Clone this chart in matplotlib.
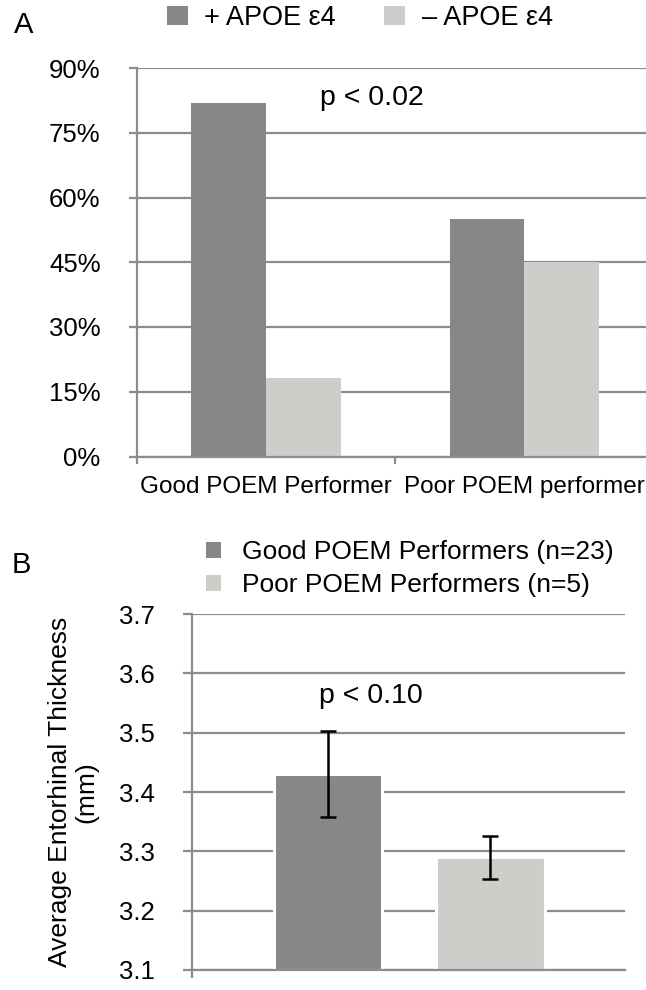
import matplotlib
matplotlib.use("Agg")
import matplotlib.pyplot as plt
from matplotlib.patches import Patch
import numpy as np

plt.rcParams['font.family'] = ['Liberation Sans', 'DejaVu Sans']

# ---------------- data ----------------
groups_a = ["Good POEM Performer", "Poor POEM performer"]
series_a = ["+ APOE ε4", "– APOE ε4"]
apoe_pos = [81.8, 55.0]   # percent
apoe_neg = [18.2, 45.0]
yticks_a = [0, 15, 30, 45, 60, 75, 90]
ytick_labels_a = ["0%", "15%", "30%", "45%", "60%", "75%", "90%"]

groups_b = ["Good POEM Performers (n=23)", "Poor POEM Performers (n=5)"]
thickness = [3.43, 3.29]
thickness_err = [0.072, 0.036]
yticks_b = [3.1, 3.2, 3.3, 3.4, 3.5, 3.6, 3.7]
ytick_labels_b = ["3.1", "3.2", "3.3", "3.4", "3.5", "3.6", "3.7"]

# ---------------- style ----------------
DARK = "#878787"
LIGHT = "#cdcdca"
GRID = "#8c8c8c"
FS = 18.5

W, H = 646, 990
fig = plt.figure(figsize=(W / 100, H / 100), dpi=100)

def fx(px):
    return px / W

def fy(py):
    return (H - py) / H

# ---------------- panel A ----------------
axA = fig.add_axes([fx(136.7), fy(456.5), 1 - fx(136.7), fy(68) - fy(456.5)])
xa = np.arange(len(groups_a))
bw = 0.29
axA.bar(xa - bw / 2, apoe_pos, width=bw, color=DARK, zorder=2, label=series_a[0])
axA.bar(xa + bw / 2, apoe_neg, width=bw, color=LIGHT, zorder=2, label=series_a[1])
axA.set_xlim(-0.5, 1.47)
axA.set_ylim(0, 90)
axA.set_yticks(yticks_a)
axA.set_yticklabels(ytick_labels_a, fontsize=FS)
axA.yaxis.grid(True, color=GRID, linewidth=1.6, zorder=0)
axA.set_axisbelow(True)
axA.set_xticks([-0.5, 0.5])
axA.set_xticklabels(["", ""])
axA.set_xticks(xa, minor=True)
axA.set_xticklabels(groups_a, minor=True, fontsize=17.5)
axA.tick_params(axis='x', which='minor', length=0, pad=14)
axA.tick_params(axis='x', which='major', length=5, width=1.6, color=GRID, direction='out')
axA.tick_params(axis='y', length=6, width=1.6, color=GRID, direction='out', pad=20)
for s in ['top', 'right']:
    axA.spines[s].set_visible(False)
for s in ['left', 'bottom']:
    axA.spines[s].set_color(GRID)
    axA.spines[s].set_linewidth(1.6)
axA.text(0.209, 81.4, "p < 0.02", fontsize=20.5, ha='left', va='baseline')

handlesA = [Patch(facecolor=DARK), Patch(facecolor=LIGHT)]
fig.legend(handlesA, series_a, loc='center left', bbox_to_anchor=(fx(167), fy(18)),
           ncol=2, frameon=False, fontsize=19.5, handlelength=0.78, handleheight=0.74,
           handletextpad=0.6, columnspacing=1.78, borderpad=0, borderaxespad=0)
fig.text(fx(14), fy(33), "A", fontsize=21, ha='left', va='baseline')

# ---------------- panel B ----------------
axB = fig.add_axes([fx(191.7), fy(970), fx(625) - fx(191.7), fy(614) - fy(970)])
xb = np.arange(len(groups_b))
base = 3.1
axB.bar(xb, np.array(thickness) - base, bottom=base, width=0.67,
        color=[DARK, LIGHT], edgecolor='white', linewidth=2.2, zorder=2)
axB.errorbar(xb, thickness, yerr=thickness_err, fmt='none', ecolor='black',
             elinewidth=1.8, capsize=5.5, capthick=1.8, zorder=3)
axB.set_xlim(-0.84, 1.83)
axB.set_ylim(3.1, 3.7)
axB.set_yticks(yticks_b)
axB.set_yticklabels(ytick_labels_b, fontsize=FS)
axB.yaxis.grid(True, color=GRID, linewidth=1.6, zorder=0)
axB.set_axisbelow(True)
axB.set_xticks([-0.84])
axB.set_xticklabels([""])
axB.tick_params(axis='x', length=6, width=1.6, color=GRID, direction='out')
axB.tick_params(axis='y', length=6.5, width=1.6, color=GRID, direction='out', pad=20)
for s in ['top', 'right']:
    axB.spines[s].set_visible(False)
for s in ['left', 'bottom']:
    axB.spines[s].set_color(GRID)
    axB.spines[s].set_linewidth(1.6)
axB.set_ylabel("Average Entorhinal Thickness\n(mm)", fontsize=19, linespacing=1.15)
axB.yaxis.set_label_coords(-0.215, 0.5)
axB.text(-0.055, 3.55, "p < 0.10", fontsize=20.5, ha='left', va='baseline')

handlesB = [Patch(facecolor=DARK), Patch(facecolor=LIGHT)]
fig.legend(handlesB, groups_b, loc='center left', bbox_to_anchor=(fx(206), fy(568.75)),
           ncol=1, frameon=False, fontsize=19, handlelength=0.57, handleheight=0.57,
           handletextpad=0.8, labelspacing=0.35, borderpad=0, borderaxespad=0)
fig.text(fx(11.5), fy(573), "B", fontsize=21, ha='left', va='baseline')

fig.savefig("out.png", dpi=100)
